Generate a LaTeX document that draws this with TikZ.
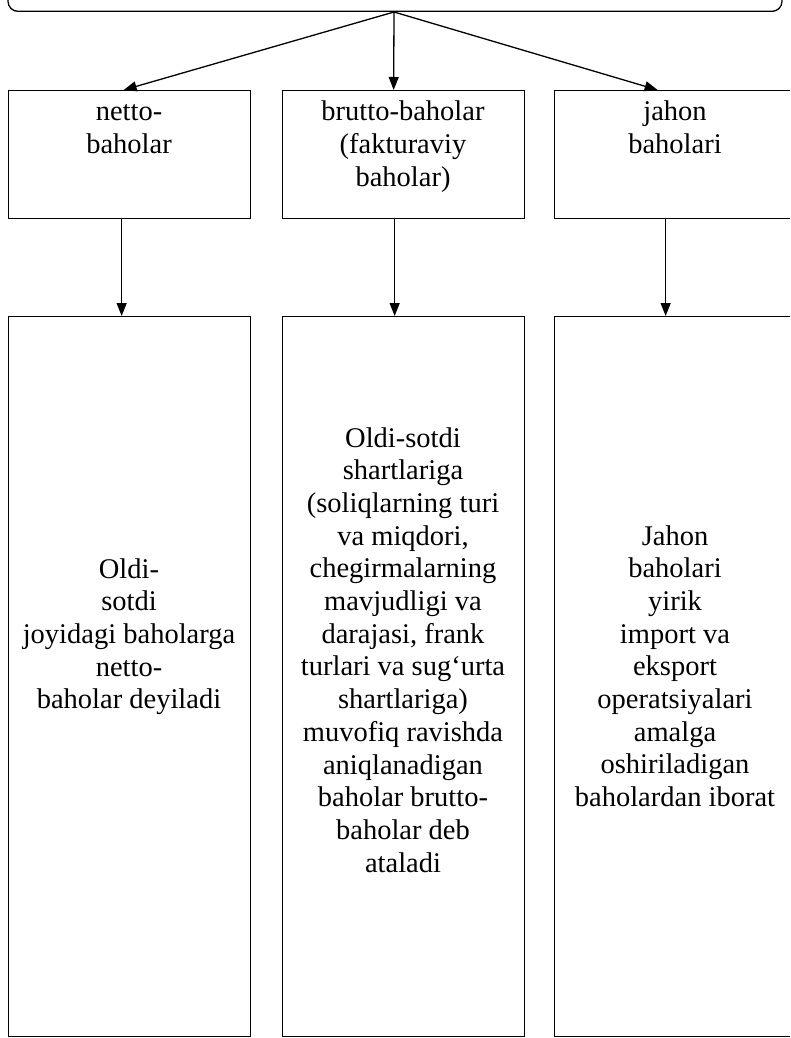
\documentclass[tikz,border=0pt]{standalone}
\usepackage{fontspec}
\setmainfont{Liberation Serif}
\usetikzlibrary{arrows.meta}
\begin{document}
\begin{tikzpicture}[x=1pt,y=-1pt,
  box/.style={draw, line width=1.3pt, minimum width=242pt, inner sep=0pt, anchor=north west},
  lbl/.style={anchor=base, inner sep=0pt, font=\fontsize{28.5}{32.7}\selectfont},
  arr/.style={line width=1.3pt, -{Triangle[length=13pt,width=10pt]}}]
\useasboundingbox (0,0) rectangle (790,1038);
\clip (0,0) rectangle (790,1038);
% top (cut-off) box
\node[draw, line width=1.3pt, rounded corners=10pt, minimum width=774pt, minimum height=100pt, inner sep=0pt, anchor=south] (top) at (395,12) {};
% first row
\node[box, minimum height=128pt] (a1) at (8,90) {};
\node[box, minimum height=128pt] (a2) at (282,90) {};
\node[box, minimum height=128pt] (a3) at (554,90) {};
% second row
\node[box, minimum height=720pt] (b1) at (8,316) {};
\node[box, minimum height=720pt] (b2) at (282,316) {};
\node[box, minimum height=720pt] (b3) at (554,316) {};
% texts
\node[lbl] (ta1) at (129,121) {\begin{tabular}[t]{@{}c@{}}netto-\\baholar\end{tabular}};
\node[lbl] (ta2) at (403,121) {\begin{tabular}[t]{@{}c@{}}brutto-baholar\\(fakturaviy\\baholar)\end{tabular}};
\node[lbl] (ta3) at (675,121) {\begin{tabular}[t]{@{}c@{}}jahon\\baholari\end{tabular}};
\node[lbl] (tb1) at (129,578) {\begin{tabular}[t]{@{}c@{}}Oldi-\\sotdi\\joyidagi baholarga\\netto-\\baholar deyiladi\end{tabular}};
\node[lbl] (tb2) at (403,447) {\begin{tabular}[t]{@{}c@{}}Oldi-sotdi\\shartlariga\\(soliqlarning turi\\va miqdori,\\chegirmalarning\\mavjudligi va\\darajasi, frank\\turlari va sug‘urta\\shartlariga)\\muvofiq ravishda\\aniqlanadigan\\baholar brutto-\\baholar deb\\ataladi\end{tabular}};
\node[lbl] (tb3) at (675,545) {\begin{tabular}[t]{@{}c@{}}Jahon\\baholari\\yirik\\import va\\eksport\\operatsiyalari\\amalga\\oshiriladigan\\baholardan iborat\end{tabular}};
% connectors
\draw[arr] ([xshift=-1pt]top.south) -- ([xshift=-6pt]a1.north);
\draw[arr] ([xshift=-1pt]top.south) -- ([xshift=-10pt]a2.north);
\draw[arr] ([xshift=-1pt]top.south) -- ([xshift=-18pt]a3.north);
\draw[arr] ([xshift=-8pt]a1.south) -- ([xshift=-8pt]b1.north);
\draw[arr] ([xshift=-9pt]a2.south) -- ([xshift=-9pt]b2.north);
\draw[arr] ([xshift=-10pt]a3.south) -- ([xshift=-10pt]b3.north);
\end{tikzpicture}
\end{document}
